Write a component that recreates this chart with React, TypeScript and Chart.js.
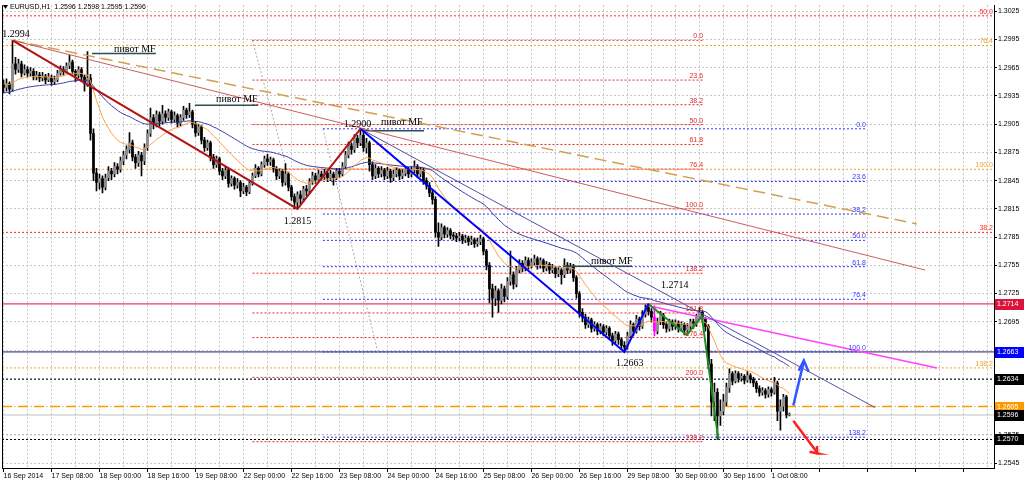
import React, { useEffect, useRef } from "react";
import { Chart, registerables } from "chart.js";

Chart.register(...registerables);

// ---------- DATA (prices in pips: 2994 => 1.2994) ----------
const X_TICK_LABELS = [
  "16 Sep 2014", "17 Sep 08:00", "18 Sep 00:00", "18 Sep 16:00", "19 Sep 08:00",
  "22 Sep 00:00", "22 Sep 16:00", "23 Sep 08:00", "24 Sep 00:00", "24 Sep 16:00",
  "25 Sep 08:00", "26 Sep 00:00", "26 Sep 16:00", "29 Sep 08:00", "30 Sep 00:00",
  "30 Sep 16:00", "1 Oct 08:00",
];
const X_LABEL_STEP = 16; // hourly bars between date labels
const X_GRID_STEP = 8;
const X_MIN = -0.5;
const X_MAX = 330.2;
const Y_MIN = 2539.7;
const Y_MAX = 3031.3;
const Y_TICKS = [2545, 2575, 2605, 2635, 2665, 2695, 2725, 2755, 2785, 2815, 2845, 2875, 2905, 2935, 2965, 2995, 3025];

const FIRST_OPEN = 2948;
const CLOSES = [
  2944, 2948, 2942, 2969, 2963, 2969, 2959, 2963, 2959, 2961,
  2955, 2957, 2954, 2956, 2952, 2955, 2950, 2952, 2959, 2963,
  2961, 2967, 2971, 2961, 2957, 2963, 2955, 2948, 2954, 2895,
  2853, 2843, 2847, 2838, 2848, 2855, 2852, 2860, 2857, 2866,
  2872, 2878, 2885, 2870, 2864, 2872, 2866, 2880, 2895, 2912,
  2905, 2915, 2908, 2916, 2912, 2918, 2910, 2914, 2906, 2912,
  2920, 2915, 2918, 2905, 2896, 2902, 2888, 2880, 2885, 2870,
  2862, 2868, 2855, 2850, 2856, 2842, 2847, 2840, 2843, 2834,
  2838, 2833, 2842, 2850, 2858, 2852, 2862, 2868, 2865, 2867,
  2858, 2850, 2855, 2843, 2852, 2838, 2828, 2822, 2830, 2826,
  2836, 2834, 2844, 2850, 2846, 2852, 2849, 2853, 2848, 2852,
  2848, 2855, 2852, 2860, 2872, 2882, 2878, 2890, 2885, 2893,
  2880, 2885, 2862, 2850, 2858, 2852, 2856, 2850, 2855, 2848,
  2852, 2856, 2850, 2853, 2857, 2852, 2856, 2860, 2852, 2856,
  2845, 2840, 2832, 2825, 2790, 2785, 2795, 2788, 2792, 2787,
  2786, 2784, 2786, 2782, 2784, 2780, 2782, 2778, 2780, 2783,
  2770, 2755, 2730, 2720, 2728, 2718, 2730, 2722, 2738, 2745,
  2735, 2750, 2757, 2752, 2760, 2755, 2758, 2762, 2755, 2760,
  2752, 2756, 2750, 2752, 2746, 2750, 2745, 2755, 2750, 2754,
  2742, 2725, 2705, 2700, 2692, 2697, 2688, 2692, 2685, 2690,
  2684, 2688, 2680, 2675, 2682, 2676, 2670, 2668, 2680, 2692,
  2685, 2698, 2690, 2703, 2710, 2706, 2700, 2685, 2695, 2702,
  2692, 2688, 2695, 2690, 2694, 2688, 2692, 2686, 2690, 2695,
  2692, 2700, 2705, 2698, 2690, 2650, 2610, 2620, 2595, 2600,
  2610, 2625, 2640, 2632, 2640, 2635, 2637, 2633, 2638, 2634,
  2630, 2624, 2620, 2622, 2618, 2623, 2620, 2630, 2600, 2605,
  2615, 2596, 2596,
];
const HIGHS = [
  2952, 2953, 2950, 2994, 2976, 2974, 2972, 2968, 2966, 2965,
  2964, 2961, 2960, 2960, 2958, 2959, 2957, 2956, 2962, 2967,
  2966, 2970, 2978, 2973, 2963, 2966, 2965, 2957, 2982, 2958,
  2900, 2858, 2852, 2850, 2852, 2860, 2858, 2864, 2863, 2870,
  2876, 2882, 2896, 2888, 2873, 2876, 2875, 2884, 2899, 2922,
  2915, 2919, 2918, 2925, 2919, 2921, 2920, 2918, 2916, 2915,
  2924, 2922, 2927, 2920, 2908, 2905, 2904, 2891, 2888, 2887,
  2873, 2871, 2870, 2858, 2859, 2858, 2850, 2849, 2847, 2845,
  2842, 2840, 2845, 2853, 2862, 2860, 2865, 2871, 2873, 2870,
  2869, 2860, 2858, 2857, 2863, 2854, 2840, 2831, 2833, 2834,
  2839, 2840, 2847, 2854, 2853, 2856, 2855, 2857, 2855, 2856,
  2854, 2858, 2858, 2864, 2876, 2886, 2885, 2894, 2893, 2900,
  2899, 2890, 2887, 2865, 2862, 2860, 2860, 2858, 2859, 2857,
  2856, 2859, 2858, 2857, 2860, 2859, 2860, 2866, 2862, 2859,
  2858, 2848, 2843, 2835, 2828, 2800, 2799, 2797, 2795, 2794,
  2790, 2789, 2790, 2788, 2787, 2786, 2786, 2784, 2784, 2787,
  2785, 2772, 2758, 2735, 2733, 2730, 2735, 2733, 2742, 2770,
  2748, 2754, 2761, 2760, 2764, 2763, 2762, 2766, 2764, 2763,
  2762, 2759, 2758, 2756, 2754, 2753, 2752, 2762, 2758, 2757,
  2756, 2744, 2727, 2709, 2703, 2700, 2699, 2695, 2694, 2693,
  2692, 2691, 2690, 2683, 2685, 2684, 2678, 2674, 2684, 2696,
  2694, 2702, 2700, 2707, 2713, 2714, 2709, 2712, 2699, 2706,
  2704, 2695, 2698, 2697, 2697, 2696, 2695, 2694, 2693, 2698,
  2698, 2703, 2710, 2707, 2700, 2692, 2655, 2630, 2624, 2612,
  2618, 2630, 2645, 2642, 2643, 2642, 2640, 2639, 2642, 2640,
  2636, 2632, 2627, 2625, 2624, 2626, 2625, 2636, 2632, 2612,
  2618, 2617, 2598,
];
const LOWS = [
  2938, 2940, 2937, 2940, 2958, 2960, 2955, 2957, 2955, 2956,
  2952, 2952, 2950, 2951, 2948, 2950, 2946, 2947, 2950, 2957,
  2957, 2959, 2964, 2958, 2950, 2954, 2950, 2940, 2945, 2888,
  2845, 2834, 2836, 2832, 2835, 2845, 2846, 2849, 2852, 2854,
  2862, 2868, 2874, 2866, 2858, 2860, 2850, 2862, 2877, 2892,
  2900, 2902, 2903, 2905, 2907, 2909, 2906, 2907, 2902, 2903,
  2909, 2911, 2912, 2901, 2892, 2893, 2884, 2876, 2877, 2866,
  2858, 2859, 2851, 2846, 2847, 2838, 2839, 2836, 2837, 2828,
  2831, 2829, 2831, 2840, 2848, 2849, 2850, 2859, 2861, 2861,
  2854, 2846, 2847, 2839, 2840, 2834, 2824, 2815, 2816, 2820,
  2823, 2829, 2831, 2841, 2842, 2843, 2845, 2846, 2844, 2845,
  2840, 2846, 2848, 2850, 2858, 2869, 2873, 2875, 2880, 2882,
  2876, 2874, 2855, 2846, 2847, 2848, 2849, 2846, 2847, 2843,
  2845, 2849, 2846, 2847, 2850, 2848, 2849, 2853, 2848, 2849,
  2841, 2836, 2828, 2820, 2785, 2775, 2782, 2784, 2785, 2783,
  2782, 2780, 2781, 2778, 2779, 2776, 2777, 2774, 2775, 2777,
  2766, 2750, 2715, 2700, 2712, 2705, 2714, 2716, 2719, 2734,
  2730, 2732, 2747, 2748, 2749, 2751, 2752, 2755, 2751, 2752,
  2748, 2749, 2746, 2747, 2742, 2743, 2735, 2742, 2746, 2747,
  2738, 2720, 2700, 2695, 2688, 2689, 2684, 2685, 2681, 2682,
  2680, 2681, 2676, 2670, 2672, 2671, 2666, 2663, 2666, 2678,
  2680, 2683, 2686, 2688, 2700, 2702, 2695, 2680, 2682, 2692,
  2688, 2684, 2685, 2686, 2687, 2684, 2685, 2681, 2683, 2687,
  2688, 2690, 2697, 2694, 2685, 2645, 2595, 2590, 2570, 2585,
  2596, 2606, 2620, 2628, 2630, 2631, 2632, 2629, 2631, 2630,
  2626, 2620, 2616, 2617, 2614, 2615, 2616, 2618, 2590, 2580,
  2600, 2593, 2595,
];
const HIGHLIGHT_BAR = 217;
const MA_FAST = { period: 18, seed: 2948 };
const MA_SLOW = { period: 50, seed: 2938 };

// trend lines: [bar, pips]
const RED_ZIGZAG = [[3, 2994], [98, 2815], [119, 2900]];
const BLUE_ZIGZAG = [[119, 2900], [207, 2663], [215, 2714]];
const GREEN_ZIGZAG = [[215, 2714], [227.8, 2681], [232.8, 2701], [238.3, 2570]];
const MAGENTA_LINE = [[215, 2712], [311.2, 2646]];
const RED_THIN_LINE = [[3, 2994], [307.2, 2750]];
const TAN_DASHED_LINE = [[3, 2994], [304.5, 2799]];
const NAVY_TREND_LINE = [[119, 2900], [290.5, 2604]];
const FIB1_DIAGONAL = [[83, 2994], [98, 2815]];
const FIB2_DIAGONAL = [[106.5, 2900], [124.8, 2663]];
const PIVOT_LINES = [
  [[29.5, 2980], [50.8, 2980]],
  [[63.8, 2925], [84.8, 2925]],
  [[119.8, 2898], [140.2, 2898]],
  [[186.5, 2754], [209.5, 2754]],
];
const BLUE_ARROW = [[263.3, 2606], [266.8, 2653]];
const BLUE_ARROW_HEAD = [[265.1, 2643], [266.8, 2654], [268.4, 2642]];
const RED_ARROW = [[263.3, 2590], [271.5, 2555]];
const RED_ARROW_HEAD = [[268.7, 2557], [271.5, 2555], [271.2, 2563]];

const FIB1 = { start: 83, end: 233.2, p0: 2994, p100: 2815, color: "#e82828", levels: [0, 23.6, 38.2, 50, 61.8, 76.4, 100, 138.2, 161.8, 176.4, 200, 238.2] };
const FIB2 = { start: 106.5, end: 287.5, p0: 2900, p100: 2663, color: "#3038ff", levels: [0, 23.6, 38.2, 50, 61.8, 76.4, 100, 138.2] };

const H_LEVELS = [
  { p: 3020, color: "#ff2a2a", dash: [2, 2], width: 1, label: "50.0" },
  { p: 2988.5, color: "#f0a428", dash: [2, 2], width: 1, label: "76.4" },
  { p: 2857, color: "#f0a428", dash: [2, 2], width: 1, label: "100.0" },
  { p: 2790, color: "#ff2a2a", dash: [2, 2], width: 1, label: "38.2" },
  { p: 2646, color: "#f0a428", dash: [2, 2], width: 1, label: "138.2" },
  { p: 2714, color: "#dc143c", dash: [], width: 1, box: "#dc143c" },
  { p: 2663, color: "#1e1e5a", dash: [], width: 1, box: "#0000ff" },
  { p: 2634, color: "#000000", dash: [2, 2], width: 1, box: "#000000" },
  { p: 2605, color: "#ff9900", dash: [10, 6], width: 1.5, box: "#ff9900" },
  { p: 2596, color: "#c0c0c0", dash: [], width: 1, box: "#000000" },
  { p: 2575, color: "#b8b8b8", dash: [2, 2], width: 1 },
  { p: 2570, color: "#000000", dash: [2, 2], width: 1, box: "#000000" },
];

const TEXTS = [
  { t: "1.2994", bar: -0.4, p: 3000, align: "left" },
  { t: "пивот MF", bar: 43.8, p: 2984, align: "center" },
  { t: "пивот MF", bar: 77.8, p: 2931, align: "center" },
  { t: "1.2900", bar: 118, p: 2905, align: "center" },
  { t: "пивот MF", bar: 132.8, p: 2907, align: "center" },
  { t: "1.2815", bar: 98, p: 2802, align: "center" },
  { t: "пивот MF", bar: 202.8, p: 2759, align: "center" },
  { t: "1.2714", bar: 223.8, p: 2734, align: "center" },
  { t: "1.2663", bar: 208.8, p: 2651, align: "center" },
];

const SANS = "'Liberation Sans', Arial, sans-serif";
const SERIF = "'Liberation Serif', 'Times New Roman', serif";

function ema(vals: number[], period: number, seed: number) {
  const k = 2 / (period + 1);
  let e = seed;
  return vals.map((v) => (e += k * (v - e)));
}

const pts = (arr: number[][]) => arr.map(([x, y]) => ({ x, y }));

function lineDs(arr: number[][], color: string, width: number, dash: number[], order: number) {
  return {
    type: "line",
    data: pts(arr),
    borderColor: color,
    backgroundColor: color,
    borderWidth: width,
    borderDash: dash,
    pointRadius: 0,
    fill: false,
    tension: 0,
    order,
  };
}

const fibPrice = (f: any, lvl: number) => f.p0 + ((f.p100 - f.p0) * lvl) / 100;

const overlayPlugin = {
  id: "overlayPlugin",
  afterDatasetsDraw(chart: any) {
    const { ctx, chartArea: a, scales } = chart;
    const xs = scales.x;
    const ys = scales.y;
    const px = (b: number) => xs.getPixelForValue(b);
    const py = (p: number) => ys.getPixelForValue(p);
    ctx.save();
    ctx.beginPath();
    ctx.rect(a.left, 0, a.right - a.left, a.bottom);
    ctx.clip();
    // fib labels
    ctx.font = `7px ${SANS}`;
    ctx.textAlign = "right";
    ctx.textBaseline = "alphabetic";
    for (const f of [FIB1, FIB2]) {
      ctx.fillStyle = f.color;
      for (const lvl of f.levels) ctx.fillText(lvl.toFixed(1), px(f.end), py(fibPrice(f, lvl)) - 2);
    }
    for (const L of H_LEVELS) {
      if (!(L as any).label) continue;
      ctx.fillStyle = L.color;
      ctx.fillText((L as any).label, a.right - 1, py(L.p) - 2);
    }
    // serif texts
    ctx.font = `10px ${SERIF}`;
    ctx.fillStyle = "#000";
    ctx.textBaseline = "middle";
    for (const t of TEXTS) {
      ctx.textAlign = t.align as CanvasTextAlign;
      ctx.fillText(t.t, px(t.bar), py(t.p));
    }
    ctx.restore();

    // header
    ctx.save();
    const last = CLOSES.length - 1;
    const o = CLOSES[last - 1];
    const fmt = (v: number) => (1 + v / 10000).toFixed(4);
    ctx.fillStyle = "#000";
    ctx.beginPath();
    ctx.moveTo(3, 5);
    ctx.lineTo(8, 5);
    ctx.lineTo(5.5, 9);
    ctx.closePath();
    ctx.fill();
    ctx.font = `7px ${SANS}`;
    ctx.textBaseline = "middle";
    ctx.textAlign = "left";
    ctx.fillText(`EURUSD,H1  ${fmt(o)} ${fmt(HIGHS[last])} ${fmt(LOWS[last])} ${fmt(CLOSES[last])}`, 10, 7);

    // price boxes on axis
    ctx.font = `7px ${SANS}`;
    for (const L of H_LEVELS) {
      const box = (L as any).box;
      if (!box) continue;
      const y = Math.round(py(L.p));
      ctx.fillStyle = box;
      ctx.fillRect(a.right + 1, y - 5, 29, 11);
      ctx.fillStyle = "#fff";
      ctx.fillText(fmt(L.p), a.right + 3, y + 0.5);
    }
    // left frame
    ctx.strokeStyle = "#000";
    ctx.lineWidth = 1;
    ctx.beginPath();
    ctx.moveTo(Math.round(a.left) + 0.5, a.top);
    ctx.lineTo(Math.round(a.left) + 0.5, a.bottom);
    ctx.stroke();
    ctx.restore();
  },
};

export default function App() {
  const ref = useRef<HTMLCanvasElement>(null);
  useEffect(() => {
    document.body.style.margin = "0";
    const bars = CLOSES.map((c, i) => ({ i, o: i === 0 ? FIRST_OPEN : CLOSES[i - 1], h: HIGHS[i], l: LOWS[i], c }));
    const wickColors = bars.map((b) => (b.i === HIGHLIGHT_BAR ? "#ff00ff" : "#000000"));
    const bodyColors = bars.map((b) => (b.i === HIGHLIGHT_BAR ? "#ff00ff" : b.c < b.o ? "#000000" : "#8c8c8c"));
    const fast = ema(CLOSES, MA_FAST.period, MA_FAST.seed);
    const slow = ema(CLOSES, MA_SLOW.period, MA_SLOW.seed);

    const datasets: any[] = [];
    for (const L of H_LEVELS) {
      datasets.push(lineDs([[X_MIN, L.p], [X_MAX, L.p]], L.color, L.width, L.dash, 10));
    }
    for (const f of [FIB1, FIB2]) {
      for (const lvl of f.levels) {
        const p = fibPrice(f, lvl);
        datasets.push(lineDs([[f.start, p], [f.end, p]], f.color, 1, [2, 2], 9));
      }
    }
    datasets.push(lineDs(FIB1_DIAGONAL, "#a8a8a8", 1, [2, 2], 9));
    datasets.push(lineDs(FIB2_DIAGONAL, "#a8a8a8", 1, [2, 2], 9));
    datasets.push({
      type: "bar",
      data: bars.map((b) => ({ x: b.i, y: [b.l, b.h] })),
      backgroundColor: wickColors,
      barThickness: 1,
      grouped: false,
      minBarLength: 1,
      order: 8,
    });
    datasets.push({
      type: "bar",
      data: bars.map((b) => ({ x: b.i, y: [b.o, b.c] })),
      backgroundColor: bodyColors,
      barThickness: 2,
      grouped: false,
      minBarLength: 1,
      order: 7,
    });
    datasets.push(lineDs(fast.map((v, i) => [i, v]), "#ffa040", 1, [], 6));
    datasets.push(lineDs(slow.map((v, i) => [i, v]), "#3a3aaa", 1, [], 6));
    datasets.push(lineDs(NAVY_TREND_LINE, "#5050a8", 1, [], 5));
    datasets.push(lineDs(RED_THIN_LINE, "#cd5c5c", 1, [], 5));
    datasets.push(lineDs(TAN_DASHED_LINE, "#d0a050", 1.5, [12, 6], 5));
    datasets.push(lineDs(MAGENTA_LINE, "#ff44ff", 1.5, [], 5));
    for (const pl of PIVOT_LINES) datasets.push(lineDs(pl, "#2f4f4f", 1.5, [], 5));
    datasets.push(lineDs(RED_ZIGZAG, "#b01414", 2, [], 4));
    datasets.push(lineDs(BLUE_ZIGZAG, "#0000ff", 2, [], 4));
    datasets.push(lineDs(GREEN_ZIGZAG, "#1e8c1e", 2, [], 4));
    datasets.push(lineDs(BLUE_ARROW, "#3355ff", 2.5, [], 3));
    datasets.push(lineDs(BLUE_ARROW_HEAD, "#3355ff", 2.5, [], 3));
    datasets.push(lineDs(RED_ARROW, "#ff2020", 2.5, [], 3));
    datasets.push(lineDs(RED_ARROW_HEAD, "#ff2020", 2.5, [], 3));

    const xTicks: number[] = [];
    for (let v = 0; v <= X_MAX; v += X_GRID_STEP) xTicks.push(v);

    const chart = new Chart(ref.current as HTMLCanvasElement, {
      type: "bar",
      data: { datasets },
      plugins: [overlayPlugin],
      options: {
        animation: false,
        responsive: false,
        devicePixelRatio: 1,
        events: [],
        layout: { padding: { left: 2, top: 1, right: 0, bottom: 0 } },
        plugins: { legend: { display: false }, tooltip: { enabled: false } },
        scales: {
          x: {
            type: "linear",
            position: "bottom",
            min: X_MIN,
            max: X_MAX,
            offset: false,
            afterBuildTicks: (s: any) => {
              s.ticks = xTicks.map((v) => ({ value: v }));
            },
            afterFit: (s: any) => {
              s.height = 14;
            },
            ticks: {
              autoSkip: false,
              maxRotation: 0,
              minRotation: 0,
              align: "start",
              padding: 0,
              color: "#000",
              font: { family: SANS, size: 7 },
              callback: (v: any) => (v % X_LABEL_STEP === 0 ? X_TICK_LABELS[v / X_LABEL_STEP] ?? "" : ""),
            },
            grid: {
              offset: false,
              color: "#c8c8c8",
              lineWidth: 1,
              drawTicks: true,
              tickLength: 4,
              tickColor: (c: any) => (c.tick && c.tick.value % X_LABEL_STEP === 0 ? "#000" : "rgba(0,0,0,0)"),
            },
            border: { display: true, color: "#000", width: 1, dash: [2, 2] },
          },
          y: {
            type: "linear",
            position: "right",
            min: Y_MIN,
            max: Y_MAX,
            afterBuildTicks: (s: any) => {
              s.ticks = Y_TICKS.map((v) => ({ value: v }));
            },
            afterFit: (s: any) => {
              s.width = 30;
            },
            ticks: {
              padding: 1,
              color: "#000",
              font: { family: SANS, size: 7 },
              callback: (v: any) => (1 + v / 10000).toFixed(4),
            },
            grid: { color: "#c8c8c8", lineWidth: 1, drawTicks: true, tickLength: 3, tickColor: "#000" },
            border: { display: true, color: "#000", width: 1, dash: [2, 2] },
          },
        },
      } as any,
    } as any);
    return () => chart.destroy();
  }, []);
  return (
    <div style={{ position: "absolute", left: 0, top: 0, width: 1024, height: 482, background: "#fff" }}>
      <canvas ref={ref} width={1024} height={482} style={{ display: "block", width: 1024, height: 482 }} />
    </div>
  );
}
